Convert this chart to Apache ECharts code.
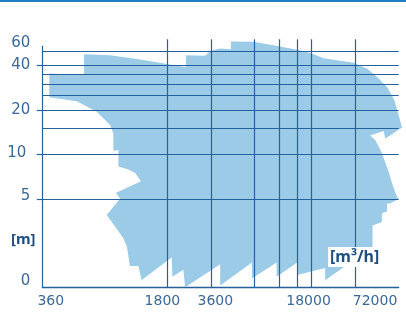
<!DOCTYPE html>
<html>
<head>
<meta charset="UTF-8">
<title>pump range</title>
<style>
  html, body { margin: 0; padding: 0; background: #fff; }
  #chart { position: absolute; left: 0; top: 0; width: 406px; height: 316px; }
  #topline { position: absolute; left: 0; top: 0; width: 406px; height: 2px; background: #1e7fc4; }
</style>
</head>
<body>
<div id="chart"></div>
<div id="topline"></div>
<script src="https://cdn.jsdelivr.net/npm/echarts@6/dist/echarts.min.js"></script>
<script>
// envelope outline, clockwise from top-left: flow [m3/h], head [m]
var flow = [394, 616, 616, 861, 1270, 1830, 2410, 2430, 3290, 3580, 4180, 4960, 4960, 7120, 10900,
	14300, 17200, 19200, 26300, 67600, 103000, 141000, 194000, 244000, 279000, 311000, 184000, 174000,
	114000, 134000, 165000, 204000, 234000, 260000, 279000, 215000, 194000, 194000, 165000, 165000,
	123000, 123000, 27700, 27700, 14300, 14300, 10300, 10300, 6940, 6940, 4180, 4180, 2390, 2320,
	1950, 1930, 1290, 1240, 1110, 1070, 1020, 825, 979, 926, 1280, 1190, 1090, 958, 958, 898, 898,
	861, 725, 561, 394];
var head = [35.3, 34.4, 55.1, 53.6, 47.4, 41.5, 39.1, 53.6, 52.5, 60.5, 64.8, 63.5, 79.0, 78.1, 68.6,
	62.3, 57.8, 55.1, 49.2, 43.1, 38.2, 33.5, 28.6, 23.3, 18.4, 15.2, 12.8, 14.4,
	13.4, 12.5, 10.2, 7.6, 6.1, 5.3, 5.0, 4.75, 4.75, 4.3, 4.2, 3.7,
	3.5, 2.3, 0.4, 1.1, 0.7, 1.4, 0.6, 1.4, 0.5, 1.4, 0.1, 1.3, 0, 1.0,
	0.6, 1.7, 0.4, 1.2, 1.2, 2.3, 2.8, 4.1, 5.05, 5.5, 6.6, 7.5, 7.9, 8.3, 10.7, 10.6, 13.9,
	15.8, 19.4, 22.9, 24.3];

var xLabels = [360, 1800, 3600, 18000, 72000];
var xGrid = [1800, 3600, 7200, 10800, 14400, 18000, 72000];
var yLabels = [60, 40, 20, 10, 5, 0];
var yGrid = [60, 40, 35, 30, 25, 20, 15, 10, 5];
var yTicks = [40, 20, 10, 5];

// printed scales are not plain log: log steps between these stops (linear 0..5 on head)
var xStops = [360, 1800, 3600, 18000, 72000];
var xStopPos = [0, 125, 168.4, 269, 313];
var yStops = [0, 5, 10, 20, 40, 60];
var yStopPos = [0, 88.3, 133, 177.6, 222, 236.3];

function scaleOf(stops, pos, linFirst) {
	return function (v) {
		var n = stops.length, i = 0;
		while (i < n - 2 && v > stops[i + 1]) i++;
		var a = stops[i], b = stops[i + 1];
		var t = (linFirst && i === 0) ? (v - a) / (b - a) : Math.log(v / a) / Math.log(b / a);
		return pos[i] + t * (pos[i + 1] - pos[i]);
	};
}
var fx = scaleOf(xStops, xStopPos, false);
var fy = scaleOf(yStops, yStopPos, true);
var xMax = fx(280000);
var yMax = fy(84);

function nearest(list, v) {
	var best = 0;
	for (var i = 1; i < list.length; i++) {
		if (Math.abs(list[i] - v) < Math.abs(list[best] - v)) best = i;
	}
	return best;
}

var pts = flow.map(function (f, i) { return [fx(f), fy(head[i])]; });
var xLabelPos = xLabels.map(fx);
var yLabelPos = yLabels.map(fy);

var lines = [];
yGrid.forEach(function (h) {
	lines.push([{ coord: [0, fy(h)] }, { coord: [xMax, fy(h)] }]);
});
xGrid.forEach(function (f) {
	lines.push([{ coord: [fx(f), 0] }, { coord: [fx(f), yMax] }]);
});
lines.push([{ coord: [0, 0] }, { coord: [0, fy(70)] }]);

var numFont = 'DejaVu Sans';
var lineColor = '#24619d';

var chart = echarts.init(document.getElementById('chart'));
chart.setOption({
	animation: false,
	grid: { left: 42.3, right: 7.3, top: 39.3, bottom: 28.7 },
	xAxis: {
		type: 'value', min: 0, max: xMax,
		splitLine: { show: false },
		axisTick: { show: false },
		axisLine: { show: true, lineStyle: { color: lineColor, width: 1.3 } },
		axisLabel: {
			customValues: xLabelPos,
			margin: 7,
			formatter: function (v) {
				var i = nearest(xLabelPos, v);
				return '{x' + i + '|' + xLabels[i] + '}';
			},
			rich: {
				x0: { fontFamily: numFont, fontSize: 14, color: '#3b6898', padding: [0, 0, 0, 17] },
				x1: { fontFamily: numFont, fontSize: 14, color: '#3b6898', padding: [0, 10, 0, 0] },
				x2: { fontFamily: numFont, fontSize: 14, color: '#3b6898', padding: [0, 0, 0, 9] },
				x3: { fontFamily: numFont, fontSize: 14, color: '#3b6898', padding: [0, 6, 0, 0] },
				x4: { fontFamily: numFont, fontSize: 14, color: '#3b6898', padding: [0, 0, 0, 39] }
			}
		}
	},
	yAxis: {
		type: 'value', min: 0, max: yMax,
		splitLine: { show: false },
		axisLine: { show: false },
		axisTick: {
			show: true, customValues: yTicks.map(fy), length: 5.5,
			lineStyle: { color: lineColor, width: 1.2 }
		},
		axisLabel: {
			customValues: yLabelPos,
			margin: 12,
			formatter: function (v) {
				var i = nearest(yLabelPos, v);
				return '{y' + i + '|' + yLabels[i] + '}';
			},
			rich: {
				y0: { fontFamily: numFont, fontSize: 15, color: '#3b6898', padding: [0, 0, 16, 0] },
				y1: { fontFamily: numFont, fontSize: 15, color: '#3b6898' },
				y2: { fontFamily: numFont, fontSize: 15, color: '#3b6898' },
				y3: { fontFamily: numFont, fontSize: 15, color: '#3b6898', padding: [0, 4, 2, 0] },
				y4: { fontFamily: numFont, fontSize: 15, color: '#3b6898', padding: [0, 0, 6, 0] },
				y5: { fontFamily: numFont, fontSize: 15, color: '#3b6898', padding: [0, 0, 12, 0] }
			}
		}
	},
	graphic: [
		{ type: 'text', left: 11, top: 232, z: 10,
			style: { text: '[m]', font: 'bold 15px "Noto Sans"', fill: '#1f4e7f' } },
		{ type: 'text', left: 328, top: 247, z: 10,
			style: { text: '[m³/h]', font: 'bold 16px "Noto Sans"', fill: '#1f4e7f',
				backgroundColor: '#fff', padding: [2, 2] } }
	],
	series: [{
		type: 'custom',
		data: pts,
		renderItem: function (params, api) {
			if (params.dataIndex !== 0) return;
			return {
				type: 'polygon',
				shape: { points: pts.map(function (p) { return api.coord(p); }) },
				style: { fill: '#9ccbe8' }
			};
		},
		markLine: {
			silent: true,
			symbol: ['none', 'none'],
			label: { show: false },
			lineStyle: { color: lineColor, width: 1.2, type: 'solid' },
			data: lines
		}
	}]
});
</script>
</body>
</html>
